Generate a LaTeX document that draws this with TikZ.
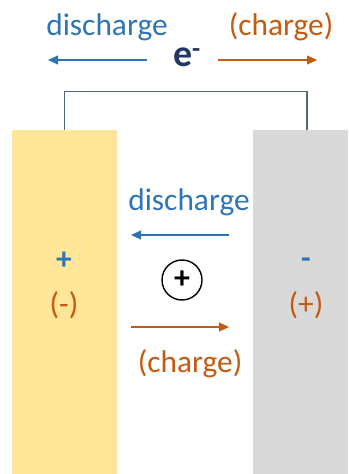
\documentclass[tikz,border=0pt]{standalone}
\usepackage{fontspec}
\setmainfont{Carlito}
\usetikzlibrary{arrows.meta, positioning}
\definecolor{dischargecolor}{RGB}{46,117,182}
\definecolor{chargecolor}{RGB}{197,90,17}
\definecolor{anodecolor}{RGB}{255,230,153}
\definecolor{cathodecolor}{RGB}{217,217,217}
\definecolor{wirecolor}{RGB}{84,100,130}
\definecolor{electroncolor}{RGB}{31,56,100}

\begin{document}
\begin{tikzpicture}[
    x=1bp, y=-1bp,
    electrode/.style={inner sep=0, minimum height=344bp},
    lbl/.style={inner sep=0, font=\fontsize{31.5}{36}\selectfont},
    flow/.style={-{Triangle[length=10bp,width=9bp]}, line width=1.1bp},
    wire/.style={draw=wirecolor, line width=1.4bp}
]
    \useasboundingbox (0,0) rectangle (348,474);

    % Electrodes
    \node[electrode, fill=anodecolor, minimum width=105bp] (anode) at (64.5,302) {};
    \node[electrode, fill=cathodecolor, minimum width=95bp] (cathode) at (300.5,302) {};

    % External circuit
    \draw[wire] (anode.north) -- ++(0,-38) -| ([xshift=6.5bp]cathode.north);

    % Electron flow
    \node[lbl, text=dischargecolor] (extdis) at (107,27) {discharge};
    \node[lbl, text=chargecolor] (extchg) at (281,27) {(charge)};
    \node[lbl, text=electroncolor, font=\fontsize{38}{40}\selectfont] (electron) at (187,57)
        {\textbf{e}\textsuperscript{\textbf{-}}};
    \coordinate (extdisA) at (147,60);
    \coordinate (extdisB) at (48,60);
    \coordinate (extchgA) at (218,60);
    \coordinate (extchgB) at (317,60);
    \draw[flow, dischargecolor] (extdisA) -- (extdisB);
    \draw[flow, chargecolor] (extchgA) -- (extchgB);

    % Ion flow through the electrolyte
    \node[lbl, text=dischargecolor] (intdis) at (189,202) {discharge};
    \node[lbl, text=chargecolor] (intchg) at (190,364) {(charge)};
    \coordinate (intdisA) at (229,235);
    \coordinate (intdisB) at (131,235);
    \coordinate (intchgA) at (131,327);
    \coordinate (intchgB) at (229,327);
    \draw[flow, dischargecolor] (intdisA) -- (intdisB);
    \draw[flow, chargecolor] (intchgA) -- (intchgB);
    \node[draw, circle, line width=1.4bp, minimum size=40bp, inner sep=0,
          font=\fontsize{32}{32}\selectfont\bfseries] (ion) at (182,280) {+};

    % Polarities
    \node[lbl, text=dischargecolor, font=\fontsize{31.5}{36}\selectfont\bfseries] (anodepol) at (64,261) {+};
    \node[lbl, text=chargecolor] (anodechg) at (64,305) {(-)};
    \node[lbl, text=dischargecolor, font=\fontsize{31.5}{36}\selectfont\bfseries] (cathodepol) at (306,263) {-};
    \node[lbl, text=chargecolor] (cathodechg) at (306,305) {(+)};
\end{tikzpicture}
\end{document}
